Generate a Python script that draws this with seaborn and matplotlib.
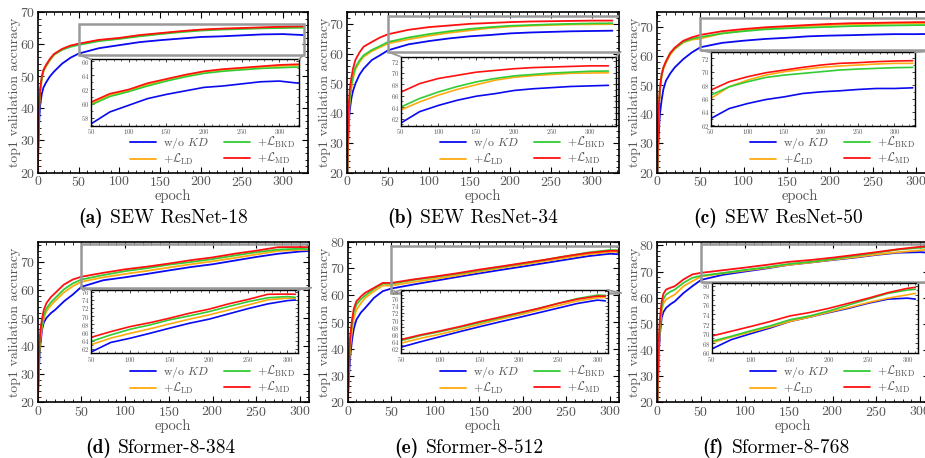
import numpy as np
import pandas as pd
import matplotlib
matplotlib.use("Agg")
import matplotlib.pyplot as plt
import seaborn as sns
from matplotlib.patches import Rectangle, ConnectionPatch
from matplotlib.lines import Line2D
from matplotlib.ticker import MultipleLocator

# ---------------- data ----------------
EPOCHS_TOP = [0, 1, 2, 3, 5, 7, 10, 15, 20, 30, 40, 50, 75, 100, 125, 150, 175, 200, 225, 250, 275, 300, 325]
EPOCHS_BOT = [0, 1, 2, 3, 5, 7, 10, 15, 20, 30, 40, 50, 75, 100, 125, 150, 175, 200, 225, 250, 275, 300, 310]

METHODS = ["w/o KD", "LD", "BKD", "MD"]
LABELS = [r"w/o $KD$", r"$+\mathcal{L}_{\mathrm{LD}}$", r"$+\mathcal{L}_{\mathrm{BKD}}$", r"$+\mathcal{L}_{\mathrm{MD}}$"]
COLORS = ["#0a0af0", "#ffaa10", "#33cc33", "#ff1010"]

a_wo = [18, 30, 37, 41, 44.5, 46.5, 48, 50, 51.5, 54, 55.8, 57.1, 58.8, 59.75, 60.7, 61.3, 61.8, 62.3, 62.5, 62.8, 63.1, 63.2, 62.9]
a_ld = [19, 33, 41, 45, 49, 51.5, 53, 55, 56.7, 58.4, 59.4, 60.0, 61.2, 61.9, 62.7, 63.4, 64.0, 64.5, 64.8, 65.0, 65.2, 65.35, 65.45]
a_bkd = [19, 33, 41.5, 45.5, 49.5, 51.8, 53.2, 55.2, 56.8, 58.3, 59.2, 59.8, 61.0, 61.7, 62.5, 63.2, 63.8, 64.3, 64.6, 64.8, 65.0, 65.1, 65.2]
a_md = [19, 34, 42, 46, 50, 52, 53.5, 55.5, 57, 58.6, 59.6, 60.2, 61.4, 62.0, 62.9, 63.5, 64.1, 64.6, 64.9, 65.1, 65.3, 65.5, 65.6]

b_wo = [18, 30, 37, 41, 45, 47.5, 50, 53, 55, 57.9, 59.5, 61.2, 63.2, 64.3, 65.2, 65.9, 66.35, 66.9, 67.2, 67.4, 67.6, 67.7, 67.8]
b_ld = [19, 32, 40, 44, 48.5, 51.5, 54.8, 57.2, 59, 60.9, 62.2, 63.5, 64.9, 66.1, 67.1, 67.9, 68.7, 69.2, 69.5, 69.7, 69.9, 69.95, 70.0]
b_bkd = [19, 33, 41, 45, 49.5, 52.5, 55.5, 57.8, 59.5, 61.3, 62.6, 64.0, 65.5, 66.65, 67.6, 68.4, 69.0, 69.45, 69.7, 69.95, 70.1, 70.25, 70.3]
b_md = [19, 35, 44, 48, 52, 55, 58, 60.5, 62.4, 64.0, 65.5, 66.6, 68.1, 69.0, 69.55, 70.1, 70.4, 70.7, 70.9, 71.0, 71.1, 71.2, 71.2]

c_wo = [18, 28, 35, 40, 44.8, 48.5, 51.5, 54, 56, 58.9, 61.2, 63.0, 64.5, 65.25, 65.85, 66.25, 66.75, 67.0, 67.15, 67.35, 67.5, 67.5, 67.6]
c_ld = [19, 34, 43, 48, 53, 55.5, 57.6, 60.5, 62.3, 64.6, 65.6, 66.0, 67.75, 68.75, 69.5, 70.0, 70.35, 70.65, 70.85, 71.0, 71.15, 71.25, 71.25]
c_bkd = [19, 35, 44, 48.5, 53.5, 56, 58.0, 61, 62.5, 64.8, 65.9, 66.5, 67.75, 68.5, 69.15, 69.5, 69.75, 70.0, 70.25, 70.4, 70.5, 70.6, 70.65]
c_md = [19, 35, 44, 49, 53.5, 56, 58.2, 61, 62.8, 65.2, 66.4, 67.25, 68.5, 69.25, 69.85, 70.25, 70.65, 71.0, 71.25, 71.35, 71.5, 71.6, 71.65]

d_wo = [18, 28, 36, 40.5, 45.9, 48.5, 50.1, 51.8, 53, 56, 58.4, 61.2, 63.55, 64.6, 65.8, 67.05, 68.25, 69.25, 70.55, 71.85, 73.0, 73.8, 73.95]
d_ld = [19, 30, 38, 42.5, 47, 50, 52.5, 54.6, 56.2, 59.2, 61.4, 63.0, 64.6, 65.8, 66.9, 68.1, 69.25, 70.3, 71.5, 72.75, 74.0, 74.4, 74.4]
d_bkd = [19, 31, 39, 43.5, 48, 51, 53.5, 55.6, 57.2, 60.3, 62.4, 63.8, 65.4, 66.8, 67.85, 69.1, 70.05, 71.1, 72.35, 73.55, 74.5, 74.8, 74.6]
d_md = [19, 33, 41, 45.5, 50, 53, 55.4, 57.5, 59, 62, 63.8, 64.8, 66.2, 67.45, 68.4, 69.5, 70.7, 71.7, 73.0, 74.1, 75.35, 75.4, 75.35]

e_wo = [18, 27, 33, 37.5, 43.4, 47.5, 50.9, 53.5, 55.25, 59, 61.5, 62.5, 64.0, 65.4, 66.8, 68.15, 69.45, 70.7, 72.0, 73.3, 74.6, 75.5, 75.3]
e_ld = [19, 29, 36, 41, 47, 51.5, 54.6, 57, 59, 61.5, 63.6, 63.6, 64.95, 66.1, 67.4, 68.8, 70.2, 71.4, 72.75, 74.0, 75.3, 76.15, 76.25]
e_bkd = [19, 31, 39, 44, 50, 53.8, 56.5, 58.5, 59.9, 62.4, 64.3, 64.3, 65.7, 66.8, 68.0, 69.3, 70.55, 71.85, 73.2, 74.6, 75.95, 76.9, 76.8]
e_md = [19, 32, 40, 45, 50.9, 55, 57.75, 59.5, 60.9, 62.75, 64.6, 64.6, 65.9, 67.0, 68.2, 69.55, 70.75, 72.0, 73.2, 74.6, 75.8, 76.6, 76.6]

f_wo = [18, 30, 40, 46, 52.3, 54.5, 56.1, 57.5, 58.6, 61.8, 64.4, 66.8, 68.75, 70.0, 71.2, 72.55, 73.45, 74.4, 75.3, 76.35, 77.2, 77.4, 77.2]
f_ld = [19, 33, 42, 48, 55, 57.8, 59.3, 60.3, 61.2, 64.4, 66.3, 68.1, 69.3, 70.35, 71.4, 72.55, 73.45, 74.5, 75.45, 76.5, 77.4, 78.1, 78.4]
f_bkd = [19, 34, 44, 50, 56.5, 59.5, 61.2, 62.3, 63.1, 65.7, 67.6, 68.4, 69.45, 70.6, 71.65, 72.9, 73.7, 74.75, 76.0, 77.2, 78.4, 79.1, 79.25]
f_md = [19, 35, 46, 52, 58.6, 61.5, 63.1, 63.8, 64.4, 67, 68.9, 69.5, 70.5, 71.5, 72.55, 73.7, 74.4, 75.3, 76.35, 77.4, 78.55, 79.45, 79.65]

CAPTIONS = ["(a)", "(b)", "(c)", "(d)", "(e)", "(f)"]
NAMES = ["SEW ResNet-18", "SEW ResNet-34", "SEW ResNet-50", "Sformer-8-384", "Sformer-8-512", "Sformer-8-768"]

# ---------------- style ----------------
sns.set_theme(style="ticks")
plt.rcParams.update({
    "font.family": ["cmr10", "DejaVu Serif"],
    "mathtext.fontset": "cm",
    "axes.formatter.use_mathtext": True,
    "axes.unicode_minus": False,
    "axes.edgecolor": "black",
    "axes.facecolor": "white",
    "figure.facecolor": "white",
})

W, H = 925, 458
fig = plt.figure(figsize=(W / 100, H / 100), dpi=100)


def fr(l, t, r, b):
    return [l / W, (H - b) / H, (r - l) / W, (b - t) / H]


TICK_C = "#555555"

panels = [
    dict(ep=EPOCHS_TOP, s=[a_wo, a_ld, a_bkd, a_md], main=(37.7, 12.3, 308.0, 172.5), xlim=(0, 331), ylim=(20, 70),
         ins=(91, 59.3, 299, 126), ixlim=(50, 326), iylim=(56.8, 66.3), iyt=[58, 60, 62, 64, 66],
         cap=(103, 110, 218), leg=(0.341, 0.232)),
    dict(ep=EPOCHS_TOP, s=[b_wo, b_ld, b_bkd, b_md], main=(347.3, 12.3, 619.0, 172.5), xlim=(0, 333), ylim=(20, 74),
         ins=(400.7, 56.7, 616, 126), ixlim=(50, 335), iylim=(60.7, 72.8), iyt=[62, 64, 66, 68, 70, 72],
         cap=(413, 420, 218), leg=(0.341, 0.232)),
    dict(ep=EPOCHS_TOP, s=[c_wo, c_ld, c_bkd, c_md], main=(657.3, 12.3, 942.0, 172.5), xlim=(0, 330), ylim=(20, 75),
         ins=(710.7, 52.3, 915, 126), ixlim=(50, 328), iylim=(61.9, 72.9), iyt=[62, 64, 66, 68, 70, 72],
         cap=(717, 725, 218), leg=(0.325, 0.232)),
    dict(ep=EPOCHS_BOT, s=[d_wo, d_ld, d_bkd, d_md], main=(37.7, 241.7, 308.7, 402.3), xlim=(0, 310), ylim=(20, 77.3),
         ins=(91, 290, 297.7, 353.3), ixlim=(50, 313), iylim=(60.9, 76.4), iyt=[62, 64, 66, 68, 70, 72, 74, 76],
         cap=(111, 118, 448), leg=(0.341, 0.238)),
    dict(ep=EPOCHS_BOT, s=[e_wo, e_ld, e_bkd, e_md], main=(347.7, 241.7, 618.7, 402.3), xlim=(0, 310), ylim=(20, 80),
         ins=(401, 290, 607.7, 353.3), ixlim=(50, 313), iylim=(60.8, 78.3), iyt=[62, 64, 66, 68, 70, 72, 74, 76, 78],
         cap=(419, 426, 448), leg=(0.341, 0.238)),
    dict(ep=EPOCHS_BOT, s=[f_wo, f_ld, f_bkd, f_md], main=(657.3, 241.7, 929.0, 402.3), xlim=(0, 310), ylim=(20, 81.4),
         ins=(711.7, 283.3, 917.7, 353.3), ixlim=(50, 313), iylim=(65.9, 80.5), iyt=[66, 68, 70, 72, 74, 76, 78, 80],
         cap=(724, 732, 448), leg=(0.341, 0.238)),
]

palette = dict(zip(METHODS, COLORS))

for i, p in enumerate(panels):
    rows = []
    for m, vals in zip(METHODS, p["s"]):
        for e, v in zip(p["ep"], vals):
            rows.append((m, e, v))
    df = pd.DataFrame(rows, columns=["method", "epoch", "acc"])

    ax = fig.add_axes(fr(*p["main"]))
    sns.lineplot(data=df, x="epoch", y="acc", hue="method", hue_order=METHODS, palette=palette,
                 estimator=None, sort=False, lw=1.3, legend=False, ax=ax)
    ax.set_xlim(*p["xlim"])
    ax.set_ylim(*p["ylim"])
    ax.xaxis.set_major_locator(MultipleLocator(50))
    ax.xaxis.set_minor_locator(MultipleLocator(10))
    ax.yaxis.set_major_locator(MultipleLocator(10))
    ax.yaxis.set_minor_locator(MultipleLocator(2))
    ax.tick_params(which="both", direction="in", top=True, right=True, colors="black",
                   labelcolor=TICK_C, labelsize=10, pad=2)
    ax.tick_params(which="major", length=4, width=0.8)
    ax.tick_params(which="minor", length=2, width=0.6)
    for sp in ax.spines.values():
        sp.set_linewidth(1.2)
        sp.set_color("black")
    ax.set_xlabel("epoch", fontsize=10.5, color=TICK_C, labelpad=0)
    ax.set_ylabel("top1 validation accuracy", fontsize=10, color=TICK_C, labelpad=-1)

    # zoom rectangle
    x0, x1 = p["ixlim"]
    y0, y1 = p["iylim"]
    ax.add_patch(Rectangle((x0, y0), x1 - x0, y1 - y0, fill=False, edgecolor="#999999", lw=1.8, zorder=5))

    # inset
    axi = fig.add_axes(fr(*p["ins"]))
    sns.lineplot(data=df, x="epoch", y="acc", hue="method", hue_order=METHODS, palette=palette,
                 estimator=None, sort=False, lw=1.2, legend=False, ax=axi)
    axi.set_xlim(x0, x1)
    axi.set_ylim(y0, y1)
    axi.set_xticks([50, 100, 150, 200, 250, 300])
    axi.set_yticks(p["iyt"])
    axi.xaxis.set_minor_locator(MultipleLocator(10))
    axi.yaxis.set_minor_locator(MultipleLocator(1))
    axi.tick_params(which="both", direction="in", top=True, right=True, labelcolor=TICK_C,
                    labelsize=4.8, pad=1)
    axi.tick_params(which="major", length=2.5, width=0.6)
    axi.tick_params(which="minor", length=1.2, width=0.5)
    axi.set_xlabel("")
    axi.set_ylabel("")
    for sp in axi.spines.values():
        sp.set_linewidth(1.0)
        sp.set_color("black")
    axi.set_facecolor("white")

    for xa, xb in [((x0, y0), (0, 1)), ((x1, y0), (1, 1))]:
        cp = ConnectionPatch(xyA=xa, coordsA=ax.transData, xyB=xb, coordsB=axi.transAxes,
                             color="#999999", lw=1.3)
        fig.add_artist(cp)

    # legend
    handles = [Line2D([], [], color=c, lw=1.3) for c in COLORS]
    leg = ax.legend(handles, LABELS, ncol=2, loc="upper left", bbox_to_anchor=p["leg"], frameon=False,
                    fontsize=8.5, handlelength=2.2, handletextpad=0.6, columnspacing=1.3,
                    labelspacing=0.05, borderpad=0, borderaxespad=0)
    for t in leg.get_texts():
        t.set_color(TICK_C)
    leg.set_zorder(10)

    xr, xl, yc = p["cap"]
    fig.text(xr / W, 1 - yc / H, CAPTIONS[i], ha="right", va="center", fontsize=14,
             family=["cmb10", "DejaVu Serif"], color="black")
    fig.text(xl / W, 1 - yc / H, NAMES[i], ha="left", va="center", fontsize=14, color="black")

fig.savefig("out.png", dpi=100)
